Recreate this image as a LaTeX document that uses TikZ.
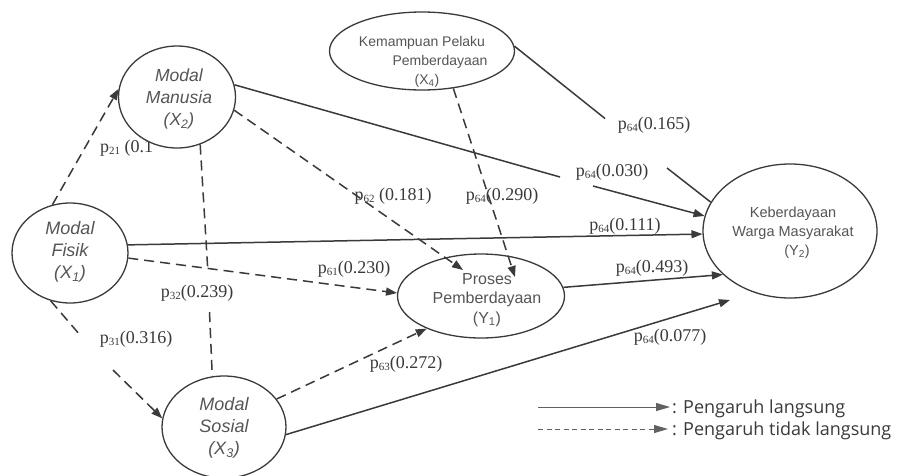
\documentclass[tikz,border=0pt]{standalone}
\usepackage{fontspec}
\setmainfont{Liberation Serif}
\newfontfamily\arialf{Liberation Sans}
\newfontfamily\legf{Open Sans}
\usetikzlibrary{shapes.geometric,arrows.meta}
\definecolor{ln}{HTML}{3A3A3A}
\definecolor{tx}{HTML}{555555}
\newcommand\sbs[1]{\raisebox{-0.25ex}{\fontsize{11}{11}\selectfont #1}}
\begin{document}
\begin{tikzpicture}[x=1pt,y=-1pt,
 var/.style={ellipse,draw=ln,line width=1.3pt,fill=white,inner sep=0pt},
 vt/.style={align=center,text=tx,inner sep=0pt},
 vti/.style={vt,font=\arialf\itshape\fontsize{18}{22}\selectfont},
 conn/.style={draw=ln,line width=1.5pt},
 tipa/.style={-{Triangle[length=11pt,width=8pt]}},
 dir/.style={conn,tipa},
 ind/.style={conn,dash pattern=on 10pt off 6pt,tipa},
 plainind/.style={conn,dash pattern=on 10pt off 6pt},
 lab/.style={font=\fontsize{18}{20}\selectfont,text=ln,inner sep=1pt},
 legt/.style={font=\legf\fontsize{18}{20}\selectfont,text=ln,inner sep=0pt,anchor=base west},
 ]
\useasboundingbox[fill=white] (0,0) rectangle (904,475);

% label partly hidden behind X2
\node[lab,anchor=west] (L21) at (99,148) {p\sbs{21} (0.1};

% ellipses
\node[var,minimum width=116pt,minimum height=100pt] (X1) at (70,253) {};
\node[var,minimum width=117pt,minimum height=102pt] (X2) at (177,97) {};
\node[var,minimum width=124pt,minimum height=102pt] (X3) at (224,427) {};
\node[var,minimum width=185pt,minimum height=78pt] (X4) at (422,51) {};
\node[var,minimum width=167pt,minimum height=84pt] (Y1) at (481,296) {};
\node[var,minimum width=174pt,minimum height=134pt] (Y2) at (790,231) {};

% free ends and gaps
\coordinate (t62) at (463,270);
\coordinate (t64) at (515,277);
\coordinate (t61) at (397,293);
\coordinate (t77) at (730,300);
\coordinate (g1) at (605,118.5);
\coordinate (g2) at (667,168);
\coordinate (g3) at (560,177);
\coordinate (g4) at (593,186);
\coordinate (g5) at (207.8,270);
\coordinate (g6) at (209.5,312);
\coordinate (g7) at (80,335);
\coordinate (g8) at (113,370);

% indirect (dashed) paths
\draw[ind] (X1.110) -- (X2.172);
\draw[ind] (X1.248) -- (g7) (g8) -- (X3.172);
\draw[plainind] (X2.296) -- (g5) (g6) -- (X3.103);
\draw[ind] (X2.347) -- (t62);
\draw[ind] (X4.-50) -- (t64);
\draw[ind] (X1.355) -- (t61);
\draw[ind] (X3.28) -- (Y1.211);

% direct (solid) paths
\draw[dir] (X1.8) -- (Y2.182);
\draw[dir] (X2.12) -- (g3) (g4) -- (Y2.170);
\draw[conn] (X4.3) -- (g1) (g2) -- (Y2.160);
\draw[dir] (Y1.6) -- (Y2.213);
\draw[dir] (X3.-7) -- (t77);

% coefficient labels
\node[lab] (L62) at (393,196) {p\sbs{62} (0.181)};
\node[lab] (L64a) at (502,196) {p\sbs{64}(0.290)};
\node[lab] (L64b) at (654,125) {p\sbs{64}(0.165)};
\node[lab] (L64c) at (612,172) {p\sbs{64}(0.030)};
\node[lab] (L64d) at (625,226) {p\sbs{64}(0.111)};
\node[lab] (L61) at (354,269) {p\sbs{61}(0.230)};
\node[lab] (L32) at (197,293) {p\sbs{32}(0.239)};
\node[lab] (L31) at (136,339) {p\sbs{31}(0.316)};
\node[lab] (L63) at (406,364) {p\sbs{63}(0.272)};
\node[lab] (L64e) at (652,268) {p\sbs{64}(0.493)};
\node[lab] (L64f) at (670,337) {p\sbs{64}(0.077)};

% variable texts
\node[vti] (X1t) at (70,252) {Modal\\Fisik\\(X\textsubscript{1})};
\node[vti,font=\arialf\itshape\fontsize{17.5}{22}\selectfont] (X2t) at (179,99) {Modal\\Manusia\\(X\textsubscript{2})};
\node[vti] (X3t) at (224,428) {Modal\\Sosial\\(X\textsubscript{3})};
\node[vt,font=\arialf\fontsize{14}{19}\selectfont] (X4t) at (422,62) {Kemampuan Pelaku\\\hspace*{36pt}Pemberdayaan\\\hspace*{10pt}(X\textsubscript{4})};
\node[vt,font=\arialf\fontsize{16}{19.5}\selectfont] (Y1t) at (487,300) {Proses\\Pemberdayaan\\(Y\textsubscript{1})};
\node[vt,font=\arialf\fontsize{14.5}{19}\selectfont] (Y2t) at (793,233) {Keberdayaan\\Warga Masyarakat\\\hspace*{8pt}(Y\textsubscript{2})};

% legend
\coordinate (La) at (538,407);
\coordinate (Lb) at (670,407);
\coordinate (Lc) at (538,429);
\coordinate (Ld) at (668,429);
\draw[draw=ln!80,line width=1pt,-{Triangle[length=14pt,width=8pt]}] (La) -- (Lb);
\draw[draw=ln!80,line width=1pt,dash pattern=on 5pt off 3.5pt,-{Triangle[length=14pt,width=8pt]}] (Lc) -- (Ld);
\node[legt] (Leg1) at (672,413) {: Pengaruh langsung};
\node[legt] (Leg2) at (672,435) {: Pengaruh tidak langsung};
\end{tikzpicture}
\end{document}
